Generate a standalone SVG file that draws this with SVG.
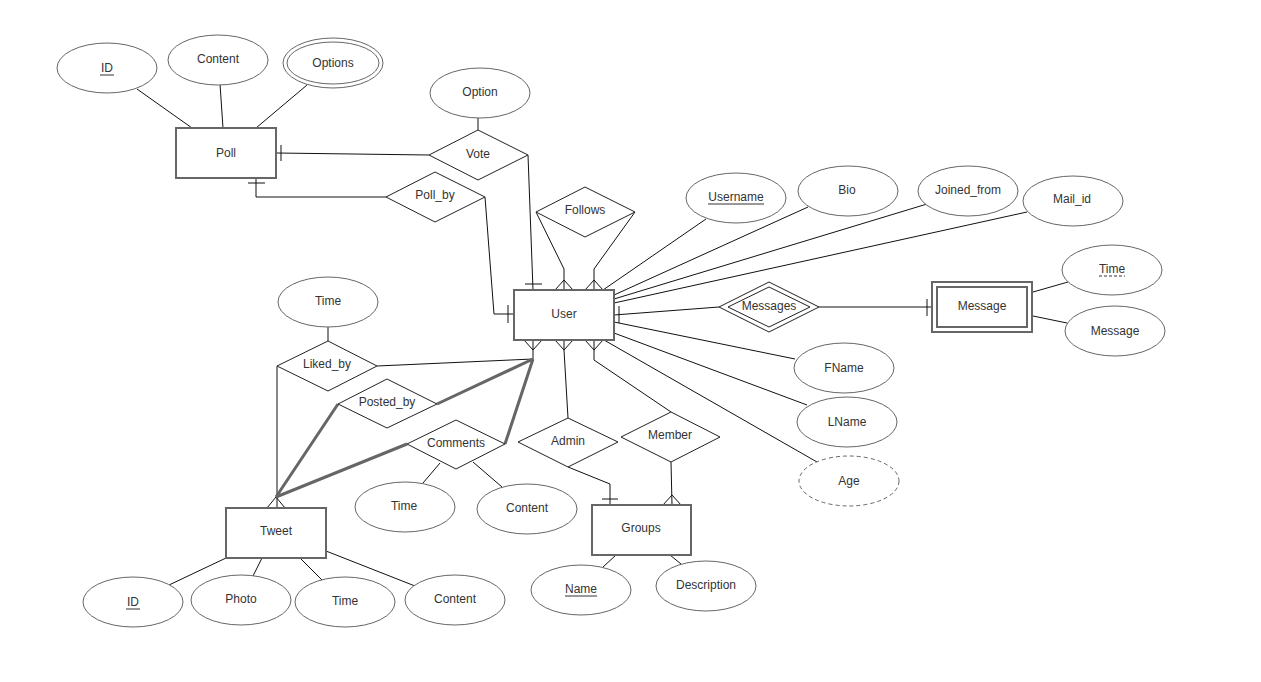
<svg xmlns="http://www.w3.org/2000/svg" width="1261" height="682" viewBox="0 0 1261 682">
<style>
text{font-family:"Liberation Sans",Arial,sans-serif;font-size:12px;fill:#333;text-anchor:middle;dominant-baseline:central}
.ent{fill:#fff;stroke:#666;stroke-width:2}
.att{fill:#fff;stroke:#666;stroke-width:1}
.rel{fill:#fff;stroke:#222;stroke-width:1}
.c{fill:none;stroke:#111;stroke-width:1}
.thick{fill:none;stroke:#666;stroke-width:3}
.ul{stroke:#333;stroke-width:1}
</style>
<rect width="1261" height="682" fill="#fff"/>
<g id="connectors">
<!-- Poll attributes -->
<path class="c" d="M137,89 L192,128 M220,84 L223,128 M307,85 L256,128"/>
<!-- Poll - Vote -->
<path class="c" d="M277,153 L429,155 M281,145 L281,161"/>
<!-- Poll - Poll_by -->
<path class="c" d="M256,178 L256,197 L386,197 M248,183 L265,183"/>
<!-- Option - Vote -->
<path class="c" d="M478,118 L478,130"/>
<!-- Vote - User -->
<path class="c" d="M528,155 L533,290 M525,284 L542,284"/>
<!-- Poll_by - User -->
<path class="c" d="M485,197 L494,314 L514,314 M508,305 L508,323"/>
<!-- Follows - User -->
<path class="c" d="M536,212 L564,269 L564,290 M555,290 L564,280 L573,290 M635,212 L594,269 L594,290 M585,290 L594,280 L603,290"/>
<!-- User attributes -->
<path class="c" d="M603,290 L706,219 M614,295 L808,207 M614,299 L927,204 M614,303 L1027,212"/>
<path class="c" d="M614,322 L795,359 M614,333 L807,405 M604,340 L817,462"/>
<!-- User - Messages - Message -->
<path class="c" d="M614,315 L719,307 M619,306 L619,323 M819,307 L932,307 M927,299 L927,316"/>
<path class="c" d="M1033,292 L1068,282 M1033,316 L1067,323"/>
<!-- User bottom feet -->
<path class="c" d="M533,340 L533,359 M524,340 L533,350 L542,340"/>
<path class="c" d="M564,340 L564,350 L568,418 M555,340 L564,350 L573,340"/>
<path class="c" d="M594,340 L594,360 L671,412 M585,340 L594,350 L603,340"/>
<!-- Liked_by -->
<path class="c" d="M328,327 L328,341 M377,366 L533,359 M277,366 L277,508 M267,508 L276,497 L285,508"/>
<!-- Posted_by / Comments thick -->
<path class="thick" d="M437,404 L533,359 M338,404 L276,497 M505,444 L533,359 M407,444 L276,497"/>
<!-- Comments attributes -->
<path class="c" d="M440,463 L423,483 M473,462 L502,487"/>
<!-- Admin / Member - Groups -->
<path class="c" d="M568,467 L610,484 L610,505 M602,499 L618,499"/>
<path class="c" d="M671,462 L672,505 M663,505 L672,495 L681,505"/>
<!-- Groups attributes -->
<path class="c" d="M616,555 L603,567 M670,555 L681,564"/>
<!-- Tweet attributes -->
<path class="c" d="M226,558 L169,585 M262,558 L253,576 M300,558 L322,580 M326,551 L415,586"/>
</g>
<g id="poll"><rect class="ent" x="176" y="128" width="100" height="50"/><text x="226" y="153">Poll</text></g>
<g id="poll-id"><ellipse class="att" cx="107" cy="68" rx="50" ry="25"/><text x="107" y="68">ID</text><line class="ul" x1="100" y1="75" x2="114" y2="75"/></g>
<g id="poll-content"><ellipse class="att" cx="218" cy="60" rx="50" ry="25"/><text x="218" y="59">Content</text></g>
<g id="poll-options"><ellipse class="att" cx="333" cy="63" rx="50" ry="25"/><ellipse class="att" cx="333" cy="63" rx="46" ry="21"/><text x="333" y="63">Options</text></g>
<g id="option"><ellipse class="att" cx="480" cy="93" rx="50" ry="25"/><text x="480" y="92">Option</text></g>
<g id="vote"><polygon class="rel" points="429,155 478,130 528,155 478,180"/><text x="478" y="154">Vote</text></g>
<g id="poll_by"><polygon class="rel" points="386,197 435,172 485,197 435,222"/><text x="435" y="195">Poll_by</text></g>
<g id="follows"><polygon class="rel" points="536,212 585,187 635,212 585,237"/><text x="585" y="210">Follows</text></g>
<g id="user"><rect class="ent" x="514" y="290" width="100" height="50"/><text x="564" y="314">User</text></g>
<g id="username"><ellipse class="att" cx="736" cy="198" rx="50" ry="25"/><text x="736" y="197">Username</text><line class="ul" x1="708" y1="204" x2="764" y2="204"/></g>
<g id="bio"><ellipse class="att" cx="848" cy="191" rx="50" ry="25"/><text x="847" y="190">Bio</text></g>
<g id="joined_from"><ellipse class="att" cx="968" cy="191" rx="50" ry="25"/><text x="968" y="190">Joined_from</text></g>
<g id="mail_id"><ellipse class="att" cx="1073" cy="201" rx="50" ry="25"/><text x="1072" y="199">Mail_id</text></g>
<g id="messages"><polygon class="rel" points="719,307 769,282 819,307 769,332"/><polygon class="rel" points="728,307 769,287 810,307 769,327"/><text x="769" y="306">Messages</text></g>
<g id="message"><rect class="ent" x="932" y="282" width="100" height="50"/><rect class="ent" x="937" y="287" width="90" height="40"/><text x="982" y="306">Message</text></g>
<g id="message-time"><ellipse class="att" cx="1112" cy="270" rx="50" ry="25"/><text x="1112" y="269">Time</text><line class="ul" x1="1099" y1="276" x2="1125" y2="276" stroke-dasharray="3,2"/></g>
<g id="message-message"><ellipse class="att" cx="1115" cy="331" rx="50" ry="25"/><text x="1115" y="331">Message</text></g>
<g id="fname"><ellipse class="att" cx="844" cy="368" rx="50" ry="25"/><text x="844" y="368">FName</text></g>
<g id="lname"><ellipse class="att" cx="847" cy="422" rx="50" ry="25"/><text x="847" y="422">LName</text></g>
<g id="age"><ellipse class="att" cx="849" cy="481" rx="50" ry="25" stroke-dasharray="4,3"/><text x="849" y="481">Age</text></g>
<g id="liked-time"><ellipse class="att" cx="328" cy="302" rx="50" ry="25"/><text x="328" y="301">Time</text></g>
<g id="liked_by"><polygon class="rel" points="277,366 328,341 377,366 328,391"/><text x="327" y="364">Liked_by</text></g>
<g id="posted_by"><polygon class="rel" points="338,404 387,379 437,404 387,428"/><text x="387" y="402">Posted_by</text></g>
<g id="comments"><polygon class="rel" points="407,444 456,420 505,444 456,469"/><text x="456" y="443">Comments</text></g>
<g id="comment-time"><ellipse class="att" cx="405" cy="507" rx="50" ry="25"/><text x="404" y="506">Time</text></g>
<g id="comment-content"><ellipse class="att" cx="527" cy="509" rx="50" ry="25"/><text x="527" y="508">Content</text></g>
<g id="admin"><polygon class="rel" points="518,442 568,418 618,442 568,467"/><text x="568" y="441">Admin</text></g>
<g id="member"><polygon class="rel" points="621,437 671,412 720,437 671,462"/><text x="670" y="435">Member</text></g>
<g id="groups"><rect class="ent" x="592" y="505" width="99" height="50"/><text x="641" y="528">Groups</text></g>
<g id="group-name"><ellipse class="att" cx="581" cy="590" rx="50" ry="25"/><text x="581" y="589">Name</text><line class="ul" x1="565" y1="596" x2="597" y2="596"/></g>
<g id="group-description"><ellipse class="att" cx="706" cy="586" rx="50" ry="25"/><text x="706" y="585">Description</text></g>
<g id="tweet"><rect class="ent" x="226" y="508" width="100" height="50"/><text x="276" y="531">Tweet</text></g>
<g id="tweet-id"><ellipse class="att" cx="133" cy="602" rx="50" ry="25"/><text x="133" y="602">ID</text><line class="ul" x1="126" y1="609" x2="140" y2="609"/></g>
<g id="tweet-photo"><ellipse class="att" cx="241" cy="600" rx="50" ry="25"/><text x="241" y="599">Photo</text></g>
<g id="tweet-time"><ellipse class="att" cx="345" cy="602" rx="50" ry="25"/><text x="345" y="601">Time</text></g>
<g id="tweet-content"><ellipse class="att" cx="455" cy="600" rx="50" ry="25"/><text x="455" y="599">Content</text></g>
</svg>
